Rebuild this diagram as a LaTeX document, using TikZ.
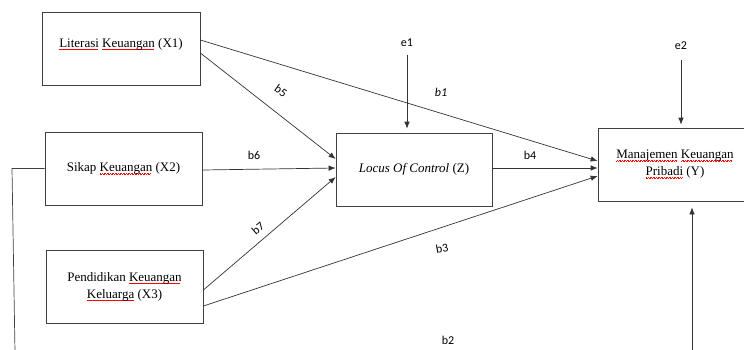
\documentclass[tikz,border=0pt]{standalone}
\usepackage{fontspec}
\setmainfont{Liberation Serif}
\newfontfamily\lblfont{Carlito}
\usepackage{color}
\usepackage{tikz}
\usetikzlibrary{calc,arrows.meta}

%% red wavy mark under words, as the spell checker draws it
\newcommand\spellerr[1]{\setbox0\hbox{#1}%
  \rlap{\lower2.6pt\hbox to\wd0{\color{red}\leaders\hbox{\rule{0.8pt}{0.4pt}\raisebox{0.7pt}{\rule{0.8pt}{0.4pt}}}\hfill}}\box0\relax}

\begin{document}
\begin{tikzpicture}[x=1pt,y=-1pt,
  varbox/.style={draw=black!75, line width=0.7pt, minimum height=73pt, align=center,
    inner sep=2pt, font=\fontsize{13}{17}\selectfont},
  coef/.style={inner sep=1pt, font=\lblfont\fontsize{12}{14}\selectfont},
  link/.style={-{Latex[length=7pt,width=5.5pt]}, draw=black!80, line width=0.7pt}]
  \useasboundingbox (0,0) rectangle (744,349);

  %% Building the boxes of the variables
  \node[varbox, minimum width=158pt, text depth=12pt] (X1) at (121,48.5)  {\spellerr{Literasi} \spellerr{Keuangan} (X1)};
  \node[varbox, minimum width=157pt] (X2) at (123.5,168.5) {Sikap \spellerr{Keuangan} (X2)};
  \node[varbox, minimum width=157pt] (X3) at (124.5,286.5) {Pendidikan \spellerr{Keuangan}\\ \spellerr{Keluarga} (X3)};
  \node[varbox, minimum width=156pt] (Z)  at (414,169.5) {\textit{Locus Of Control} (Z)};
  \node[varbox, minimum width=154pt] (Y)  at (675,164.5) {\spellerr{Manajemen} \spellerr{Keuangan}\\ \spellerr{Pribadi} (Y)};

  %% Error terms
  \node[coef] (e1) at (407,43) {e1};
  \node[coef] (e2) at (681,46) {e2};
  \draw[link, shorten <=7pt, shorten >=4pt] (e1) -- (e1 |- Z.north);
  \draw[link, shorten <=9pt, shorten >=3pt] (e2) -- (e2 |- Y.north);

  %% Drawing the paths between variables
  \draw[link] ([yshift=8.5pt]X1.east)  -- ([yshift=3.5pt]Y.west);
  \draw[link] ([yshift=-4.5pt]X1.east) -- ([yshift=10.5pt]Z.west);
  \draw[link] ([yshift=-1.5pt]X2.east) -- ([yshift=1.5pt]Z.west);
  \draw[link] ([yshift=-3.5pt]X3.east) -- ([yshift=-7.5pt]Z.west);
  \draw[link] ([yshift=-19.5pt]X3.east) -- ([yshift=-11.5pt]Y.west);
  \draw[link] ([yshift=1.5pt]Z.east)   -- ([yshift=-3.5pt]Y.west);

  %% Line running down from X2 and arrow coming up into Y
  \coordinate (xbend) at (12,168.5);
  \coordinate (xfoot) at (15,352);
  \coordinate (yfoot) at (692,352);
  \draw[draw=black!75, line width=0.7pt] (X2.west) -- (xbend) -- (xfoot);
  \draw[link, shorten >=6pt] (yfoot) -- (yfoot |- Y.south);

  %% Labels of the coefficients
  \node[coef] (b1) at (441,92)  {\textit{b1}};
  \node[coef, rotate=-35] (b5) at (281,91) {b5};
  \node[coef] (b6) at (254,155) {b6};
  \node[coef, rotate=40] (b7) at (258,228) {b7};
  \node[coef] (b4) at (530,155) {b4};
  \node[coef, rotate=10] (b3) at (442,248) {b3};
  \node[coef] (b2) at (448,340) {b2};
\end{tikzpicture}
\end{document}
